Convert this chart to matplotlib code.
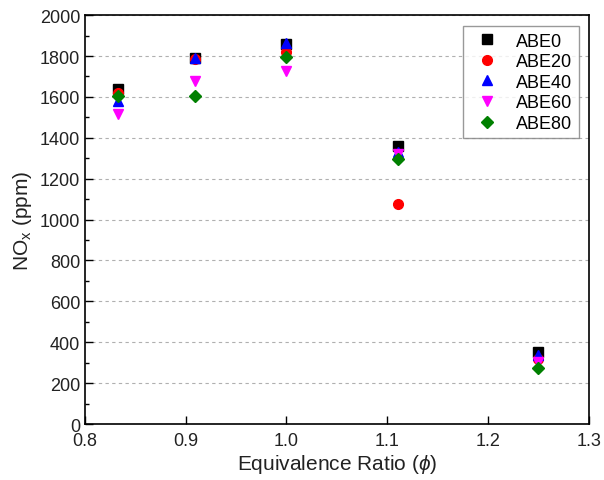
import matplotlib
matplotlib.use("Agg")
import matplotlib.pyplot as plt
from matplotlib.ticker import MultipleLocator

plt.rcParams['font.family'] = ['Liberation Sans', 'DejaVu Sans']
plt.rcParams['mathtext.fontset'] = 'custom'
plt.rcParams['mathtext.rm'] = 'Liberation Sans'
plt.rcParams['mathtext.it'] = 'Liberation Sans:italic'

phi = [0.833, 0.909, 1.0, 1.111, 1.25]
series_names = ["ABE0", "ABE20", "ABE40", "ABE60", "ABE80"]
abe0 = [1640, 1790, 1860, 1360, 350]
abe20 = [1620, 1785, 1820, 1075, 320]
abe40 = [1580, 1790, 1865, 1330, 340]
abe60 = [1515, 1680, 1725, 1320, 305]
abe80 = [1605, 1605, 1795, 1295, 275]

styles = [("s", "black"), ("o", "red"), ("^", "blue"), ("v", "magenta"), ("D", "green")]

fig = plt.figure(figsize=(6.04, 4.81), dpi=100)
ax = fig.add_axes([0.1407, 0.1164, 0.834, 0.850])

for name, vals, (m, c) in zip(series_names, [abe0, abe20, abe40, abe60, abe80], styles):
    ms = 7 if m != "D" else 6
    ax.plot(phi, vals, linestyle="none", marker=m, color=c, markersize=ms, label=name)

ax.set_xlim(0.8, 1.3)
ax.set_ylim(0, 2000)
ax.xaxis.set_major_locator(MultipleLocator(0.1))
ax.yaxis.set_major_locator(MultipleLocator(200))
ax.yaxis.set_minor_locator(MultipleLocator(100))
ax.xaxis.set_major_formatter(matplotlib.ticker.FormatStrFormatter("%.1f"))
ax.tick_params(direction="in", which="major", length=6, width=1, labelsize=13,
               labelcolor="#222222")
ax.tick_params(axis="x", pad=6)
ax.tick_params(direction="in", which="minor", length=3, width=1)
ax.grid(axis="y", which="major", linestyle=(0, (3, 3)), color="#b0b0b0", linewidth=0.8)
for s in ax.spines.values():
    s.set_linewidth(1.2)

ax.set_xlabel(r"Equivalence Ratio ($\phi$)", fontsize=15, color="#222222", labelpad=2)
ax.set_ylabel(r"NO$_\mathrm{x}$ (ppm)", fontsize=15, color="#222222")

leg = ax.legend(loc="upper right", fontsize=13, frameon=True, fancybox=False,
                edgecolor="gray", handletextpad=0.6, handlelength=2.0,
                borderpad=0.35, labelspacing=0.2, borderaxespad=0,
                bbox_to_anchor=(0.980, 0.973))
leg.get_frame().set_linewidth(1.0)

fig.savefig("out.png", dpi=100)
